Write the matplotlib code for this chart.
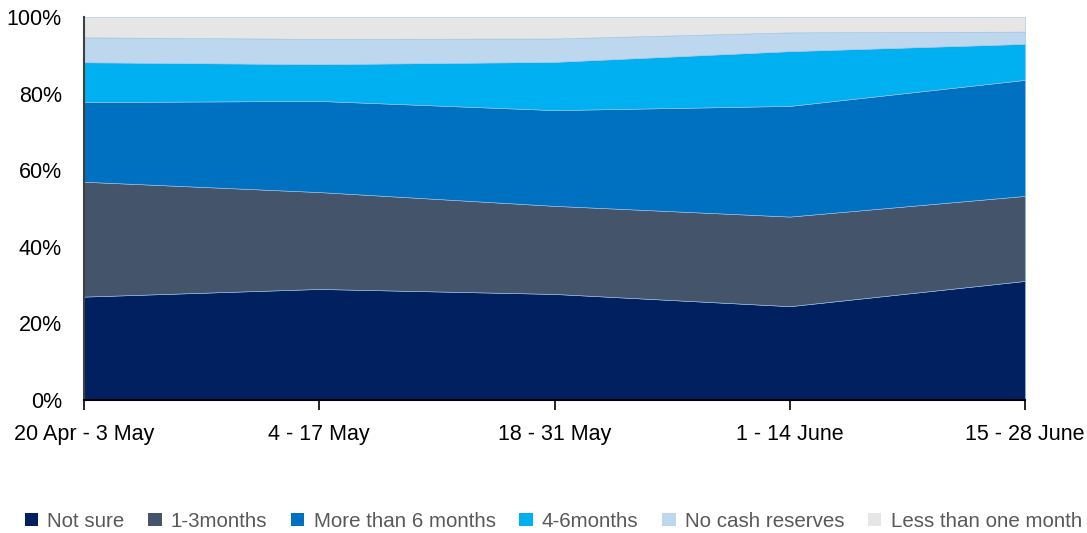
import numpy as np
import matplotlib.pyplot as plt
from matplotlib.patches import Patch

plt.rcParams['font.family'] = ['Liberation Sans', 'DejaVu Sans']

# Periods and shares (%) per answer
periods = ["20 Apr - 3 May", "4 - 17 May", "18 - 31 May", "1 - 14 June", "15 - 28 June"]
not_sure = [27.0, 29.0, 27.7, 24.5, 31.1]
one_three = [30.0, 25.3, 23.0, 23.4, 22.2]
more_six = [20.8, 23.8, 25.0, 28.9, 30.3]
four_six = [10.4, 9.6, 12.6, 14.3, 9.4]
no_cash = [6.5, 6.6, 6.1, 4.9, 3.2]
less_one = [5.3, 5.7, 5.6, 4.0, 3.8]

labels = ["Not sure", "1-3months", "More than 6 months", "4-6months",
          "No cash reserves", "Less than one month"]
colors = ["#002060", "#44546A", "#0070C0", "#00B0F0", "#BDD7EE", "#E6E6E6"]

series = np.array([not_sure, one_three, more_six, four_six, no_cash, less_one])
series = series / series.sum(axis=0) * 100
x = np.arange(len(periods))

fig = plt.figure(figsize=(10.87, 5.33), dpi=100)
ax = fig.add_axes([0.0773, 0.2495, 0.8657, 0.7185])

ax.stackplot(x, series, colors=colors, edgecolor="#9DC3E6", linewidth=0.4)

ax.set_xlim(0, len(periods) - 1)
ax.set_ylim(0, 100)
ax.set_yticks([0, 20, 40, 60, 80, 100])
ax.set_yticklabels([f"{v}%" for v in [0, 20, 40, 60, 80, 100]])
ax.set_xticks(x)
ax.set_xticklabels(periods)

ax.tick_params(axis='y', length=0, labelsize=15.5, pad=16)
ax.tick_params(axis='x', length=7, width=1.2, direction='out', labelsize=15.5, pad=10)

for s in ['top', 'right']:
    ax.spines[s].set_visible(False)
ax.spines['left'].set_color('#404040')
ax.spines['left'].set_linewidth(1.5)
ax.spines['bottom'].set_color('black')
ax.spines['bottom'].set_linewidth(1.5)

handles = [Patch(facecolor=c, edgecolor='none') for c in colors]
leg = fig.legend(handles, labels, loc='center', bbox_to_anchor=(0.509, 0.022),
                 ncol=6, frameon=False, fontsize=14.8, handlelength=0.65,
                 handleheight=0.65, handletextpad=0.45, columnspacing=1.15,
                 borderpad=0, borderaxespad=0)
for t in leg.get_texts():
    t.set_color('#595959')

fig.savefig("out.png", dpi=100)
